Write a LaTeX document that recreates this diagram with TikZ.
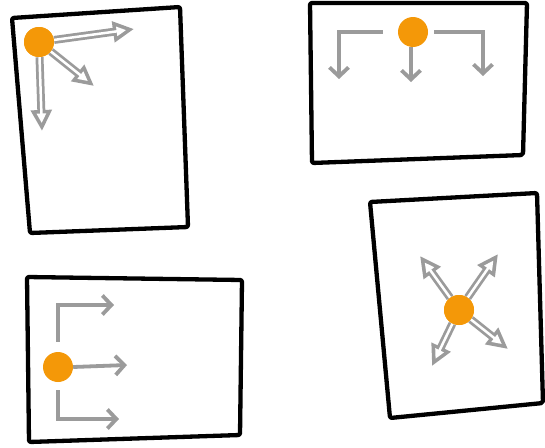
\documentclass[tikz,border=0pt]{standalone}
\usetikzlibrary{arrows.meta}

\definecolor{dotorange}{RGB}{244,152,8}
\definecolor{flowgray}{RGB}{155,155,155}

\begin{document}
\begin{tikzpicture}[x=1pt, y=-1pt,
        sheet/.style={draw=black, line width=4.3pt, line join=round, rounded corners=2pt, fill=white},
        dot/.style={circle, fill=dotorange, draw=none, minimum size=30pt, inner sep=0pt},
        flow/.style={draw=flowgray, line width=3.8pt, -{Straight Barb[length=9pt, width=19pt]}},
        hollow/.style={draw=flowgray, line width=8pt, -{Triangle[length=21pt, width=20pt]},
            postaction={draw=white, line width=2.5pt, shorten >=8pt, -{Triangle[length=9.5pt, width=9pt]}}}
    ]
        \useasboundingbox (0,0) rectangle (545,447);

        % Top-left sheet: corner fan
        \draw[sheet] (12,18) -- (180,7) -- (188,227) -- (30,233) -- cycle;
        \node[dot] (dot1) at (39,42) {};
        \coordinate (r1) at (134,29);
        \coordinate (d1) at (94,86);
        \coordinate (b1) at (42,131);
        \draw[hollow] (dot1) -- (r1);
        \draw[hollow] (dot1) -- (d1);
        \draw[hollow] (dot1) -- (b1);
        \node[dot] at (dot1) {};

        % Top-right sheet: branching down
        \draw[sheet] (310,3) -- (527,3) -- (523,155) -- (312,163) -- cycle;
        \node[dot] (dot2) at (413,32) {};
        \coordinate (l2) at (339,79);
        \coordinate (m2) at (411,82);
        \coordinate (r2) at (483,76);
        \draw[flow] ([xshift=-15pt]dot2.west) -| (l2);
        \draw[flow] ([xshift=-2pt]dot2.south) -- (m2);
        \draw[flow] ([xshift=6pt]dot2.east) -| (r2);

        % Bottom-left sheet: branching right
        \draw[sheet] (27,277) -- (242,280) -- (240,435) -- (29,442) -- cycle;
        \node[dot] (dot3) at (58,367) {};
        \coordinate (t3) at (114,305);
        \coordinate (m3) at (127,365);
        \coordinate (b3) at (119,419);
        \draw[flow] ([yshift=10pt]dot3.north) |- (t3);
        \draw[flow] (dot3.east) -- (m3);
        \draw[flow] ([yshift=-8pt]dot3.south) |- (b3);

        % Bottom-right sheet: spreading out
        \draw[sheet] (370,202) -- (537,193) -- (543,403) -- (390,418) -- cycle;
        \node[dot] (dot4) at (459,310) {};
        \coordinate (ul4) at (420,256);
        \coordinate (ur4) at (498,254);
        \coordinate (ll4) at (432,366);
        \coordinate (lr4) at (508,349);
        \draw[hollow] (dot4) -- (ul4);
        \draw[hollow] (dot4) -- (ur4);
        \draw[hollow] (dot4) -- (ll4);
        \draw[hollow] (dot4) -- (lr4);
        \node[dot] at (dot4) {};
\end{tikzpicture}
\end{document}
